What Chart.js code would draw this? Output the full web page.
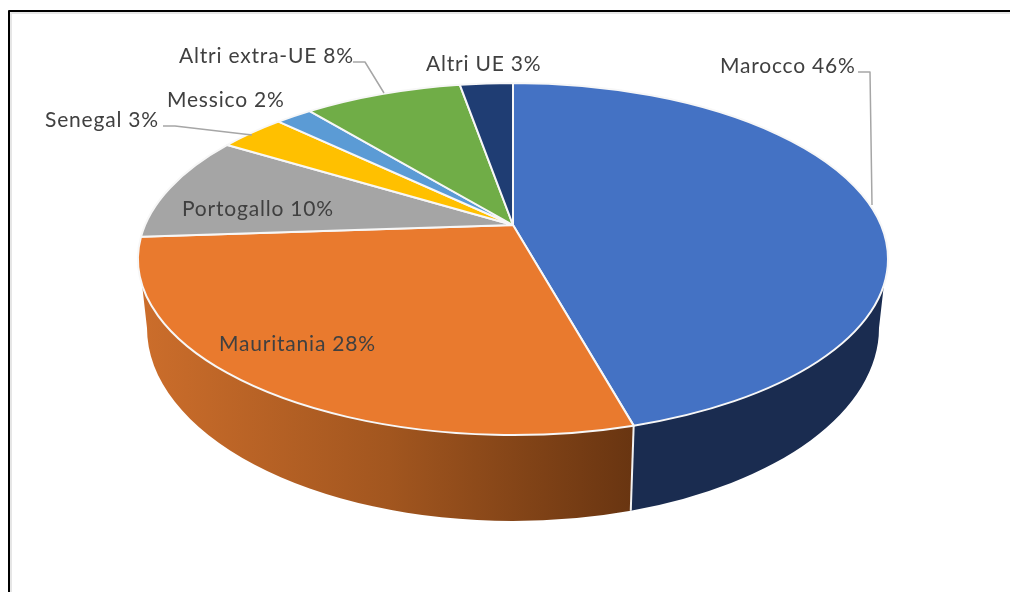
<!DOCTYPE html>
<html>
<head>
<meta charset="utf-8">
<style>
    html, body { margin: 0; padding: 0; background: #fff; overflow: hidden; }
    canvas { display: block; }
</style>
<script src="https://cdn.jsdelivr.net/npm/chart.js@4"></script>
</head>
<body>
<canvas id="pieChart" width="1010" height="592"></canvas>
<script>
const categories = ["Marocco", "Mauritania", "Portogallo", "Senegal", "Messico", "Altri extra-UE", "Altri UE"];
// the labels show them rounded
const shares = [45.7, 28.2, 9.8, 3.45, 1.9, 8.2, 2.75];
const sliceColors = ["#4472c4", "#e97a2e", "#a5a5a5", "#ffc000", "#5b9bd5", "#70ad47", "#1f3d73"];

// where each label sits (left x, baseline y), same order as categories
const labelX = [720, 219, 182, 45, 167, 179, 426];
const labelY = [73, 351, 216, 127, 107, 63, 71];

// leader lines, only the three outside labels that have one
const leaders = [
    [[858, 72], [870, 72], [872, 205]],
    [[163, 126], [175, 126], [252, 135]],
    [[353, 62], [365, 62], [384, 93]]
];

// top face ellipse, and the apex sits above its centre because of the perspective
const top3d = { cx: 513, cy: 259, rx: 375, ry: 176 };
const bottom3d = { cx: 513, cy: 328, rx: 366, ry: 193 };
const apexY = 225;
const wallStart = 8.5 * Math.PI / 180; // where the wall leaves the top ellipse

// chart angle -> angle on the drawn ellipse, keeps the circle but moves its centre to the apex
function toEllipseAngle(a) {
    const v0 = (apexY - top3d.cy) / top3d.ry;
    const u = Math.cos(a), v = Math.sin(a);
    const d = 1 + v * v0;
    return Math.atan2((v + v0) / d, u * Math.sqrt(1 - v0 * v0) / d);
}

function sliceAngles(arc) {
    const from = toEllipseAngle(arc.startAngle);
    let to = toEllipseAngle(arc.endAngle);
    while (to <= from) to += Math.PI * 2;
    return [from, to];
}

function wallFill(ctx, i) {
    if (i === 0) return "#1a2c50";
    const g = ctx.createLinearGradient(145, 0, 632, 0);
    g.addColorStop(0, "#cb6d2b");
    g.addColorStop(0.5, "#a2561f");
    g.addColorStop(1, "#693511");
    return g;
}

const pie3d = {
    id: "pie3d",
    beforeDatasetsDraw(chart) {
        const ctx = chart.ctx;
        const arcs = chart.getDatasetMeta(0).data;

        // side walls first
        arcs.forEach((arc, i) => {
            let [from, to] = sliceAngles(arc);
            if (from > Math.PI) { from -= Math.PI * 2; to -= Math.PI * 2; }
            const a = Math.max(from, wallStart);
            const b = Math.min(to, Math.PI - wallStart);
            if (b <= a) return;
            const a2 = a === wallStart ? 0 : a;
            const b2 = b === Math.PI - wallStart ? Math.PI : b;
            ctx.beginPath();
            ctx.ellipse(top3d.cx, top3d.cy, top3d.rx, top3d.ry, 0, a, b);
            ctx.ellipse(bottom3d.cx, bottom3d.cy, bottom3d.rx, bottom3d.ry, 0, b2, a2, true);
            ctx.closePath();
            ctx.fillStyle = wallFill(ctx, i);
            ctx.fill();

            // white seam where two walls meet
            if (a !== wallStart) {
                ctx.beginPath();
                ctx.moveTo(top3d.cx + top3d.rx * Math.cos(a), top3d.cy + top3d.ry * Math.sin(a));
                ctx.lineTo(bottom3d.cx + bottom3d.rx * Math.cos(a), bottom3d.cy + bottom3d.ry * Math.sin(a));
                ctx.strokeStyle = "#f2f2f2";
                ctx.lineWidth = 2;
                ctx.stroke();
            }
        });

        // top face
        arcs.forEach((arc, i) => {
            const [from, to] = sliceAngles(arc);
            ctx.beginPath();
            ctx.moveTo(top3d.cx, apexY);
            ctx.ellipse(top3d.cx, top3d.cy, top3d.rx, top3d.ry, 0, from, to);
            ctx.closePath();
            ctx.fillStyle = sliceColors[i];
            ctx.fill();
            ctx.strokeStyle = "#f7f7f7";
            ctx.lineWidth = 2;
            ctx.lineJoin = "round";
            ctx.stroke();
        });
        return false; // the arcs are drawn above, skip the flat ones
    },
    afterDraw(chart) {
        const ctx = chart.ctx;
        ctx.save();

        // frame, open at the bottom
        ctx.strokeStyle = "#e6e6e6";
        ctx.lineWidth = 2;
        ctx.strokeRect(11, 13, 1010, 600);
        ctx.strokeStyle = "#000";
        ctx.lineWidth = 2;
        ctx.strokeRect(9, 11, 1010, 600);

        ctx.strokeStyle = "#a6a6a6";
        ctx.lineWidth = 1.5;
        leaders.forEach(line => {
            ctx.beginPath();
            line.forEach((p, i) => i ? ctx.lineTo(p[0], p[1]) : ctx.moveTo(p[0], p[1]));
            ctx.stroke();
        });

        ctx.fillStyle = "#404040";
        ctx.font = "21px Lato";
        ctx.letterSpacing = "0.8px";
        ctx.textBaseline = "alphabetic";
        categories.forEach((name, i) => {
            ctx.fillText(`${name} ${Math.round(shares[i])}%`, labelX[i], labelY[i]);
        });
        ctx.restore();
    }
};

new Chart(document.getElementById("pieChart"), {
    type: "pie",
    data: {
        labels: categories,
        datasets: [{ data: shares, backgroundColor: sliceColors }]
    },
    options: {
        responsive: false,
        animation: false,
        plugins: { legend: { display: false }, tooltip: { enabled: false } }
    },
    plugins: [pie3d]
});
</script>
</body>
</html>
